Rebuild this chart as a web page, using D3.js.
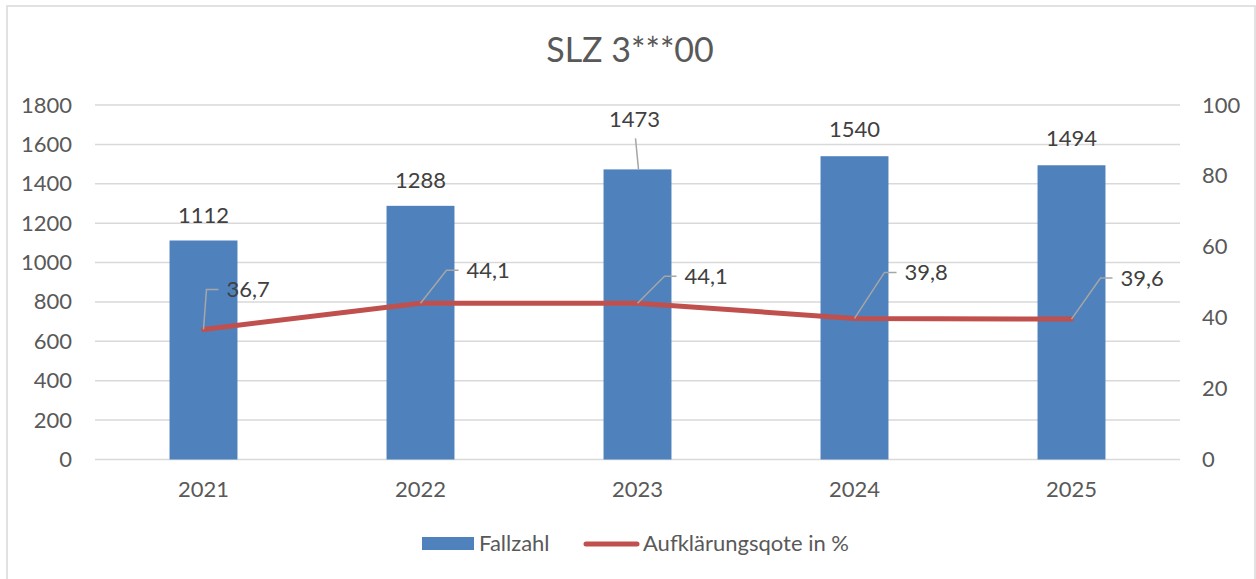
<!DOCTYPE html>
<html>
<head>
<meta charset="utf-8">
<script src="https://cdn.jsdelivr.net/npm/d3@7"></script>
<style>
  html, body { margin: 0; padding: 0; background: #fff; }
  svg { display: block; font-family: Lato, "Open Sans", sans-serif; }
</style>
</head>
<body>
<svg id="chart" width="1256" height="579"></svg>
<script>
// ---- data ----
const title = "SLZ 3***00";
const years = ["2021", "2022", "2023", "2024", "2025"];
const fallzahl = [1112, 1288, 1473, 1540, 1494];
const quote = [36.7, 44.1, 44.1, 39.8, 39.6];
const leftTicks = [0, 200, 400, 600, 800, 1000, 1200, 1400, 1600, 1800];
const rightTicks = [0, 20, 40, 60, 80, 100];
const seriesNames = ["Fallzahl", "Aufklärungsqote in %"];

// ---- layout (label placement offsets, not data) ----
const lineLabelOffsets = [[3, -40], [26, -33], [27, -27], [30, -46], [29, -41]];
const barLabelOffsets = [-17, -18, -42, -19, -19];

const svg = d3.select("#chart");
const m = { left: 95, right: 1180, top: 105, bottom: 459.5 };
const barColor = "#4F81BD", lineColor = "#C0504D", gridColor = "#D9D9D9";
const tickColor = "#595959", labelColor = "#404040";
const FS = 22;
const fmt = d => d.toFixed(1).replace(".", ",");

// border
svg.append("rect").attr("x", 7).attr("y", 6).attr("width", 1248).attr("height", 590)
  .attr("fill", "#fff").attr("stroke", "#D9D9D9").attr("stroke-width", 1.5);

// title
svg.append("text").attr("x", 630).attr("y", 62).attr("text-anchor", "middle")
  .attr("font-size", 34).attr("fill", tickColor).text(title);

const x = d3.scaleBand().domain(years).range([m.left, m.right]).paddingInner(0.687).paddingOuter(0.3435);
const y = d3.scaleLinear().domain([0, 1800]).range([m.bottom, m.top]);
const y2 = d3.scaleLinear().domain([0, 100]).range([m.bottom, m.top]);

// gridlines
svg.append("g").selectAll("line").data(leftTicks).join("line")
  .attr("x1", m.left).attr("x2", m.right)
  .attr("y1", d => y(d)).attr("y2", d => y(d))
  .attr("stroke", gridColor).attr("stroke-width", 1.5);

function styleAxis(g) {
  g.select(".domain").remove();
  g.selectAll("text").attr("font-size", FS).attr("fill", tickColor)
    .attr("font-family", "Lato, 'Open Sans', sans-serif");
}

// left axis
svg.append("g").attr("transform", `translate(${m.left},0)`)
  .call(d3.axisLeft(y).tickValues(leftTicks).tickFormat(d3.format("d")).tickSize(0).tickPadding(23))
  .call(styleAxis);

// right axis
svg.append("g").attr("transform", `translate(${m.right},0)`)
  .call(d3.axisRight(y2).tickValues(rightTicks).tickFormat(d3.format("d")).tickSize(0).tickPadding(22))
  .call(styleAxis);

// x axis labels
svg.append("g").attr("transform", `translate(0,${m.bottom})`)
  .call(d3.axisBottom(x).tickSize(0).tickPadding(22))
  .call(styleAxis);

// bars
svg.append("g").selectAll("rect").data(fallzahl).join("rect")
  .attr("x", (d, i) => x(years[i])).attr("width", x.bandwidth())
  .attr("y", d => y(d)).attr("height", d => y(0) - y(d))
  .attr("fill", barColor);

// bar labels
const cx = i => x(years[i]) + x.bandwidth() / 2;
svg.append("g").selectAll("text").data(fallzahl).join("text")
  .attr("x", (d, i) => cx(i) - (barLabelOffsets[i] < -30 ? 3 : 0))
  .attr("y", (d, i) => y(d) + barLabelOffsets[i])
  .attr("text-anchor", "middle").attr("font-size", FS).attr("fill", labelColor)
  .text(d => d);
// leader for bar labels placed far away
svg.append("g").selectAll("line").data(fallzahl.map((d, i) => [d, i]).filter(p => barLabelOffsets[p[1]] < -30)).join("line")
  .attr("x1", p => cx(p[1]) + 1).attr("y1", p => y(p[0]))
  .attr("x2", p => cx(p[1]) - 2).attr("y2", p => y(p[0]) + barLabelOffsets[p[1]] + 11)
  .attr("stroke", "#A6A6A6").attr("stroke-width", 1.5);

// line
const line = d3.line().x((d, i) => cx(i)).y(d => y2(d));
svg.append("path").datum(quote).attr("d", line)
  .attr("fill", "none").attr("stroke", lineColor).attr("stroke-width", 5)
  .attr("stroke-linejoin", "round").attr("stroke-linecap", "round");

// line label leaders & labels
const lg = svg.append("g");
quote.forEach((d, i) => {
  const px = cx(i), py = y2(d);
  const ex = px + lineLabelOffsets[i][0], ey = py + lineLabelOffsets[i][1];
  lg.append("polyline")
    .attr("points", `${px},${py} ${ex},${ey} ${ex + 12},${ey}`)
    .attr("fill", "none").attr("stroke", "#A6A6A6").attr("stroke-width", 1.5);
  lg.append("text").attr("x", ex + 20).attr("y", ey + 8)
    .attr("font-size", FS).attr("fill", labelColor).text(fmt(d));
});

// legend
const leg = svg.append("g");
leg.append("rect").attr("x", 422).attr("y", 537).attr("width", 52).attr("height", 13).attr("fill", barColor);
leg.append("text").attr("x", 479).attr("y", 551).attr("font-size", FS).attr("fill", tickColor).text(seriesNames[0]);
leg.append("line").attr("x1", 586).attr("x2", 637).attr("y1", 544).attr("y2", 544)
  .attr("stroke", lineColor).attr("stroke-width", 5).attr("stroke-linecap", "round");
leg.append("text").attr("x", 643).attr("y", 551).attr("font-size", FS).attr("fill", tickColor).text(seriesNames[1]);
</script>
</body>
</html>
